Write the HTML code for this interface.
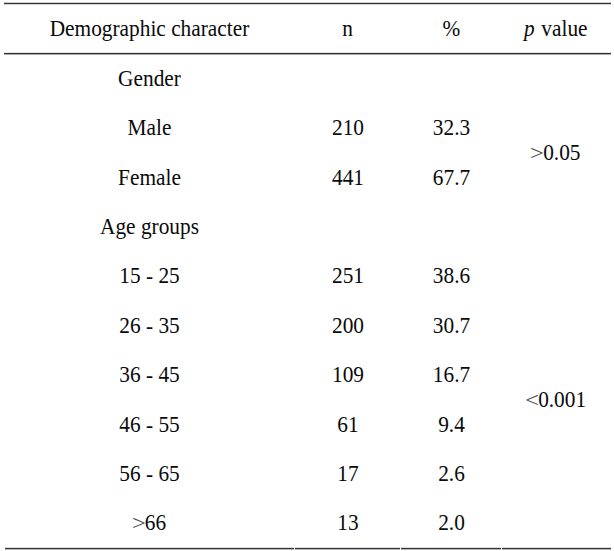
<!DOCTYPE html>
<html><head><meta charset="utf-8"><title>Demographic characteristics</title><style>
html,body{margin:0;padding:0;background:#fff;}
body{width:614px;height:551px;position:relative;overflow:hidden;font-family:"Liberation Serif",serif;font-size:21.33px;color:#0a0a0a;}
table{position:absolute;left:4px;top:4px;width:607px;border-collapse:collapse;table-layout:fixed;}
td,th{padding:0;text-align:center;vertical-align:middle;font-weight:normal;line-height:24px;white-space:nowrap;}
thead th{height:49px;padding-bottom:1px;}
tbody td{height:49.4px;padding-top:0.35px;box-sizing:border-box;}
.r{position:absolute;height:1px;background:#323232;}
.s{display:inline-block;transform:scaleY(1.08);transform-origin:50% 19.2px;}
.c4{position:relative;left:-0.7px;}
.nn{position:relative;left:-0.5px;}
.hy{position:relative;top:1.4px;}
.ch{display:inline-block;transform:translateY(0.2px) scale(1.16,0.93);color:#4a4a4a;}
</style></head><body>
<table>
<colgroup><col style="width:291px"><col style="width:106px"><col style="width:101px"><col style="width:109px"></colgroup>
<thead><tr><th><span class="s">Demographic character</span></th><th><span class="s nn">n</span></th><th><span class="s">%</span></th><th><span class="s c4" style="word-spacing:1.3px"><i>p</i> value</span></th></tr></thead>
<tbody>
<tr><td><span class="s">Gender</span></td><td></td><td></td><td></td></tr>
<tr><td><span class="s">Male</span></td><td><span class="s">210</span></td><td><span class="s">32.3</span></td><td rowspan="2"><span class="s c4"><span class="ch">&gt;</span>0.05</span></td></tr>
<tr><td><span class="s">Female</span></td><td><span class="s">441</span></td><td><span class="s">67.7</span></td></tr>
<tr><td><span class="s">Age groups</span></td><td></td><td></td><td></td></tr>
<tr><td><span class="s">15 <span class="hy">-</span> 25</span></td><td><span class="s">251</span></td><td><span class="s">38.6</span></td><td rowspan="6"><span class="s c4" style="left:-0.4px"><span class="ch">&lt;</span>0.001</span></td></tr>
<tr><td><span class="s">26 <span class="hy">-</span> 35</span></td><td><span class="s">200</span></td><td><span class="s">30.7</span></td></tr>
<tr><td><span class="s">36 <span class="hy">-</span> 45</span></td><td><span class="s">109</span></td><td><span class="s">16.7</span></td></tr>
<tr><td><span class="s">46 <span class="hy">-</span> 55</span></td><td><span class="s">61</span></td><td><span class="s">9.4</span></td></tr>
<tr><td><span class="s">56 <span class="hy">-</span> 65</span></td><td><span class="s">17</span></td><td><span class="s">2.6</span></td></tr>
<tr><td><span class="s"><span class="ch">&gt;</span>66</span></td><td><span class="s">13</span></td><td><span class="s">2.0</span></td></tr>
</tbody></table>
<div class="r" style="left:4px;top:3px;width:607px;box-shadow:0 -1px 0 #cfcfcf,0 1px 0 #d4d4d4"></div>
<div class="r" style="left:4px;top:53px;width:607px;box-shadow:0 -1px 0 #e4e4e4,0 1px 0 #a8a8a8"></div>
<div class="r" style="left:5px;top:548px;width:289px;box-shadow:0 -1px 0 #dcdcdc,0 1px 0 #b8b8b8"></div>
<div class="r" style="left:295px;top:548px;width:105px;box-shadow:0 -1px 0 #dcdcdc,0 1px 0 #b8b8b8"></div>
<div class="r" style="left:401px;top:548px;width:100px;box-shadow:0 -1px 0 #dcdcdc,0 1px 0 #b8b8b8"></div>
<div class="r" style="left:502px;top:548px;width:109px;box-shadow:0 -1px 0 #dcdcdc,0 1px 0 #b8b8b8"></div>
</body></html>
